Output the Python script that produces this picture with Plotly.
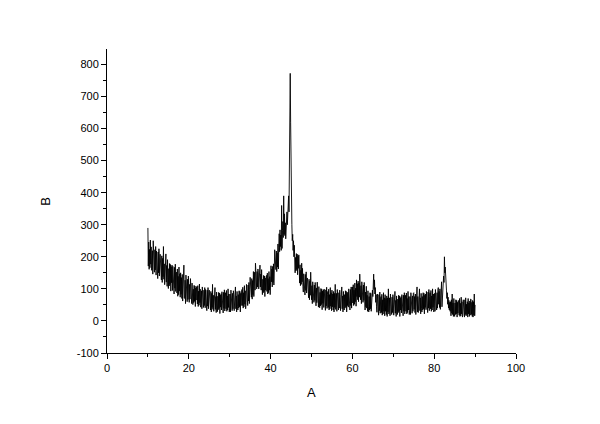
import plotly.graph_objects as go

# Sampling grid of the scan (degrees)
x_start = 10.0
x_step = 0.1

# Intensity values, 10.0 .. 90.0 in 0.1 steps (one row per degree)
seg_10_20 = [290, 171, 246, 161, 223, 166, 252, 177, 231, 158,
             162, 219, 146, 250, 167, 214, 152, 222, 159, 232,
             143, 218, 153, 205, 132, 215, 150, 225, 140, 197,
             208, 141, 193, 128, 203, 120, 195, 138, 232, 130,
             178, 113, 186, 126, 209, 121, 173, 108, 191, 129,
             101, 163, 109, 179, 114, 176, 93, 169, 119, 174,
             95, 170, 105, 157, 84, 167, 102, 177, 92, 149,
             152, 87, 162, 77, 139, 82, 168, 93, 147, 74,
             150, 83, 135, 70, 145, 62, 137, 80, 174, 72,
             70, 127, 54, 143, 75, 122, 60, 130, 67, 140]
seg_20_30 = [108, 58, 114, 68, 132, 64, 104, 54, 118, 70,
             51, 99, 57, 111, 61, 109, 45, 103, 65, 107,
             103, 53, 110, 45, 93, 49, 115, 57, 99, 43,
             50, 94, 38, 106, 54, 90, 42, 96, 48, 104,
             41, 98, 48, 88, 32, 96, 46, 104, 38, 82,
             96, 44, 84, 34, 92, 28, 86, 42, 114, 36,
             80, 30, 86, 40, 104, 36, 76, 26, 90, 42,
             29, 77, 35, 89, 39, 87, 23, 81, 43, 85,
             34, 91, 41, 81, 25, 89, 39, 97, 31, 75,
             88, 38, 95, 30, 78, 34, 100, 42, 84, 28]
seg_30_40 = [40, 84, 28, 96, 44, 80, 32, 86, 38, 94,
             82, 32, 88, 42, 106, 38, 78, 28, 92, 44,
             34, 82, 40, 94, 44, 92, 28, 86, 48, 90,
             98, 48, 105, 40, 88, 44, 110, 52, 94, 38,
             57, 114, 64, 104, 48, 112, 62, 120, 54, 98,
             136, 84, 124, 74, 132, 68, 126, 82, 154, 76,
             108, 152, 96, 180, 112, 148, 100, 154, 106, 162,
             150, 100, 156, 110, 174, 106, 146, 96, 160, 112,
             82, 130, 88, 142, 92, 140, 76, 134, 96, 138,
             142, 92, 149, 84, 132, 88, 154, 96, 138, 82]
seg_40_50 = [115, 172, 122, 162, 106, 170, 120, 178, 112, 156,
             222, 170, 210, 160, 218, 154, 212, 168, 240, 162,
             228, 272, 216, 284, 232, 268, 220, 360, 226, 282,
             310, 260, 390, 270, 334, 266, 306, 256, 320, 272,
             340, 300, 360, 320, 390, 340, 430, 540, 772, 620,
             420, 320, 300, 250, 270, 220, 250, 200, 236, 190,
             150, 198, 156, 210, 160, 208, 144, 202, 164, 206,
             168, 118, 175, 110, 158, 114, 180, 122, 164, 108,
             90, 147, 97, 137, 81, 145, 95, 153, 87, 131,
             134, 82, 122, 72, 130, 66, 124, 80, 152, 74]
seg_50_60 = [66, 110, 54, 122, 70, 106, 58, 112, 64, 120,
             97, 47, 103, 57, 121, 53, 93, 43, 107, 59,
             41, 89, 47, 101, 51, 99, 35, 93, 55, 97,
             42, 99, 49, 89, 33, 97, 47, 105, 39, 83,
             92, 42, 99, 34, 82, 38, 104, 46, 88, 32,
             96, 44, 84, 34, 92, 28, 86, 42, 114, 36,
             42, 86, 30, 98, 46, 82, 34, 88, 40, 96,
             82, 32, 88, 42, 106, 38, 78, 28, 92, 44,
             34, 82, 40, 94, 44, 92, 28, 86, 48, 90,
             43, 100, 50, 90, 34, 98, 48, 106, 40, 84]
seg_60_70 = [106, 56, 113, 48, 96, 52, 118, 60, 102, 46,
             128, 76, 116, 66, 124, 60, 118, 74, 146, 68,
             66, 110, 54, 122, 70, 106, 58, 112, 64, 120,
             84, 34, 90, 44, 108, 40, 80, 30, 94, 46,
             28, 76, 34, 88, 38, 86, 30, 84, 56, 96,
             76, 120, 146, 98, 128, 84, 104, 58, 82, 44,
             27, 84, 34, 74, 18, 82, 32, 90, 24, 68,
             76, 26, 83, 18, 66, 22, 88, 30, 72, 16,
             82, 30, 70, 20, 78, 14, 72, 28, 100, 22,
             28, 72, 16, 84, 32, 68, 20, 74, 26, 82]
seg_70_80 = [68, 18, 74, 28, 92, 24, 64, 14, 78, 30,
             20, 68, 26, 80, 30, 78, 14, 72, 34, 76,
             25, 82, 32, 72, 16, 80, 30, 88, 22, 66,
             80, 30, 87, 22, 70, 26, 92, 34, 76, 20,
             32, 76, 20, 88, 36, 72, 24, 78, 30, 86,
             88, 36, 76, 26, 84, 20, 78, 34, 106, 28,
             76, 26, 82, 36, 100, 32, 72, 22, 86, 38,
             28, 76, 34, 88, 38, 86, 22, 80, 42, 84,
             35, 92, 42, 82, 26, 90, 40, 98, 32, 76,
             88, 38, 95, 30, 78, 34, 100, 42, 84, 28]
seg_80_90 = [42, 86, 30, 98, 46, 82, 34, 88, 40, 96,
             104, 52, 92, 42, 100, 36, 94, 50, 122, 44,
             80, 110, 96, 140, 120, 200, 150, 168, 120, 130,
             96, 70, 88, 52, 74, 40, 64, 34, 58, 30,
             60, 16, 66, 24, 84, 20, 56, 14, 70, 24,
             14, 56, 20, 66, 22, 64, 12, 58, 24, 62,
             64, 18, 70, 14, 55, 16, 74, 22, 60, 12,
             18, 66, 22, 58, 12, 66, 20, 72, 16, 52,
             20, 60, 12, 70, 22, 56, 14, 62, 18, 68,
             68, 20, 58, 14, 64, 12, 60, 18, 84, 16,
             50]

y = (seg_10_20 + seg_20_30 + seg_30_40 + seg_40_50 +
     seg_50_60 + seg_60_70 + seg_70_80 + seg_80_90)
x = [round(x_start + i * x_step, 2) for i in range(len(y))]

y_tick_vals = [-100, 0, 100, 200, 300, 400, 500, 600, 700, 800]
y_tick_text = ["-100", "0", "100", "200", "300", "400", "500", "600", "700", "800"]
x_tick_vals = [0, 20, 40, 60, 80, 100]
x_tick_text = ["0", "20", "40", "60", "80", "100"]
x_title = "A"
y_title = "B"

fig = go.Figure()
fig.add_trace(go.Scatter(x=x, y=y, mode="lines",
                         line=dict(color="black", width=0.9),
                         showlegend=False))

axis_common = dict(
    showline=True, linecolor="black", linewidth=1,
    ticks="outside", ticklen=5, tickwidth=1, tickcolor="black",
    showgrid=False, zeroline=False, mirror=False,
    tickfont=dict(family="Arial, Liberation Sans", size=11, color="black"),
)

fig.update_layout(
    width=592, height=416,
    paper_bgcolor="white", plot_bgcolor="white",
    margin=dict(l=99, r=84, t=41, b=71),
    xaxis=dict(range=[0, 100], tickmode="array",
               tickvals=x_tick_vals, ticktext=x_tick_text,
               minor=dict(tickmode="linear", tick0=0, dtick=10, ticks="outside",
                          ticklen=3, tickcolor="black", showgrid=False),
               **axis_common),
    yaxis=dict(range=[-100, 848], tickmode="array",
               tickvals=y_tick_vals, ticktext=y_tick_text,
               minor=dict(tickmode="linear", tick0=-100, dtick=50, ticks="outside",
                          ticklen=3, tickcolor="black", showgrid=False),
               **axis_common),
    annotations=[
        dict(text=x_title, xref="paper", yref="paper", x=0.5, y=-0.13,
             xanchor="center", yanchor="middle", showarrow=False,
             font=dict(family="Arial, Liberation Sans", size=13, color="black")),
        dict(text=y_title, xref="paper", yref="paper", x=-0.152, y=0.5,
             xanchor="center", yanchor="middle", showarrow=False, textangle=-90,
             font=dict(family="Arial, Liberation Sans", size=13, color="black")),
    ],
)

fig.write_html("out.html")
